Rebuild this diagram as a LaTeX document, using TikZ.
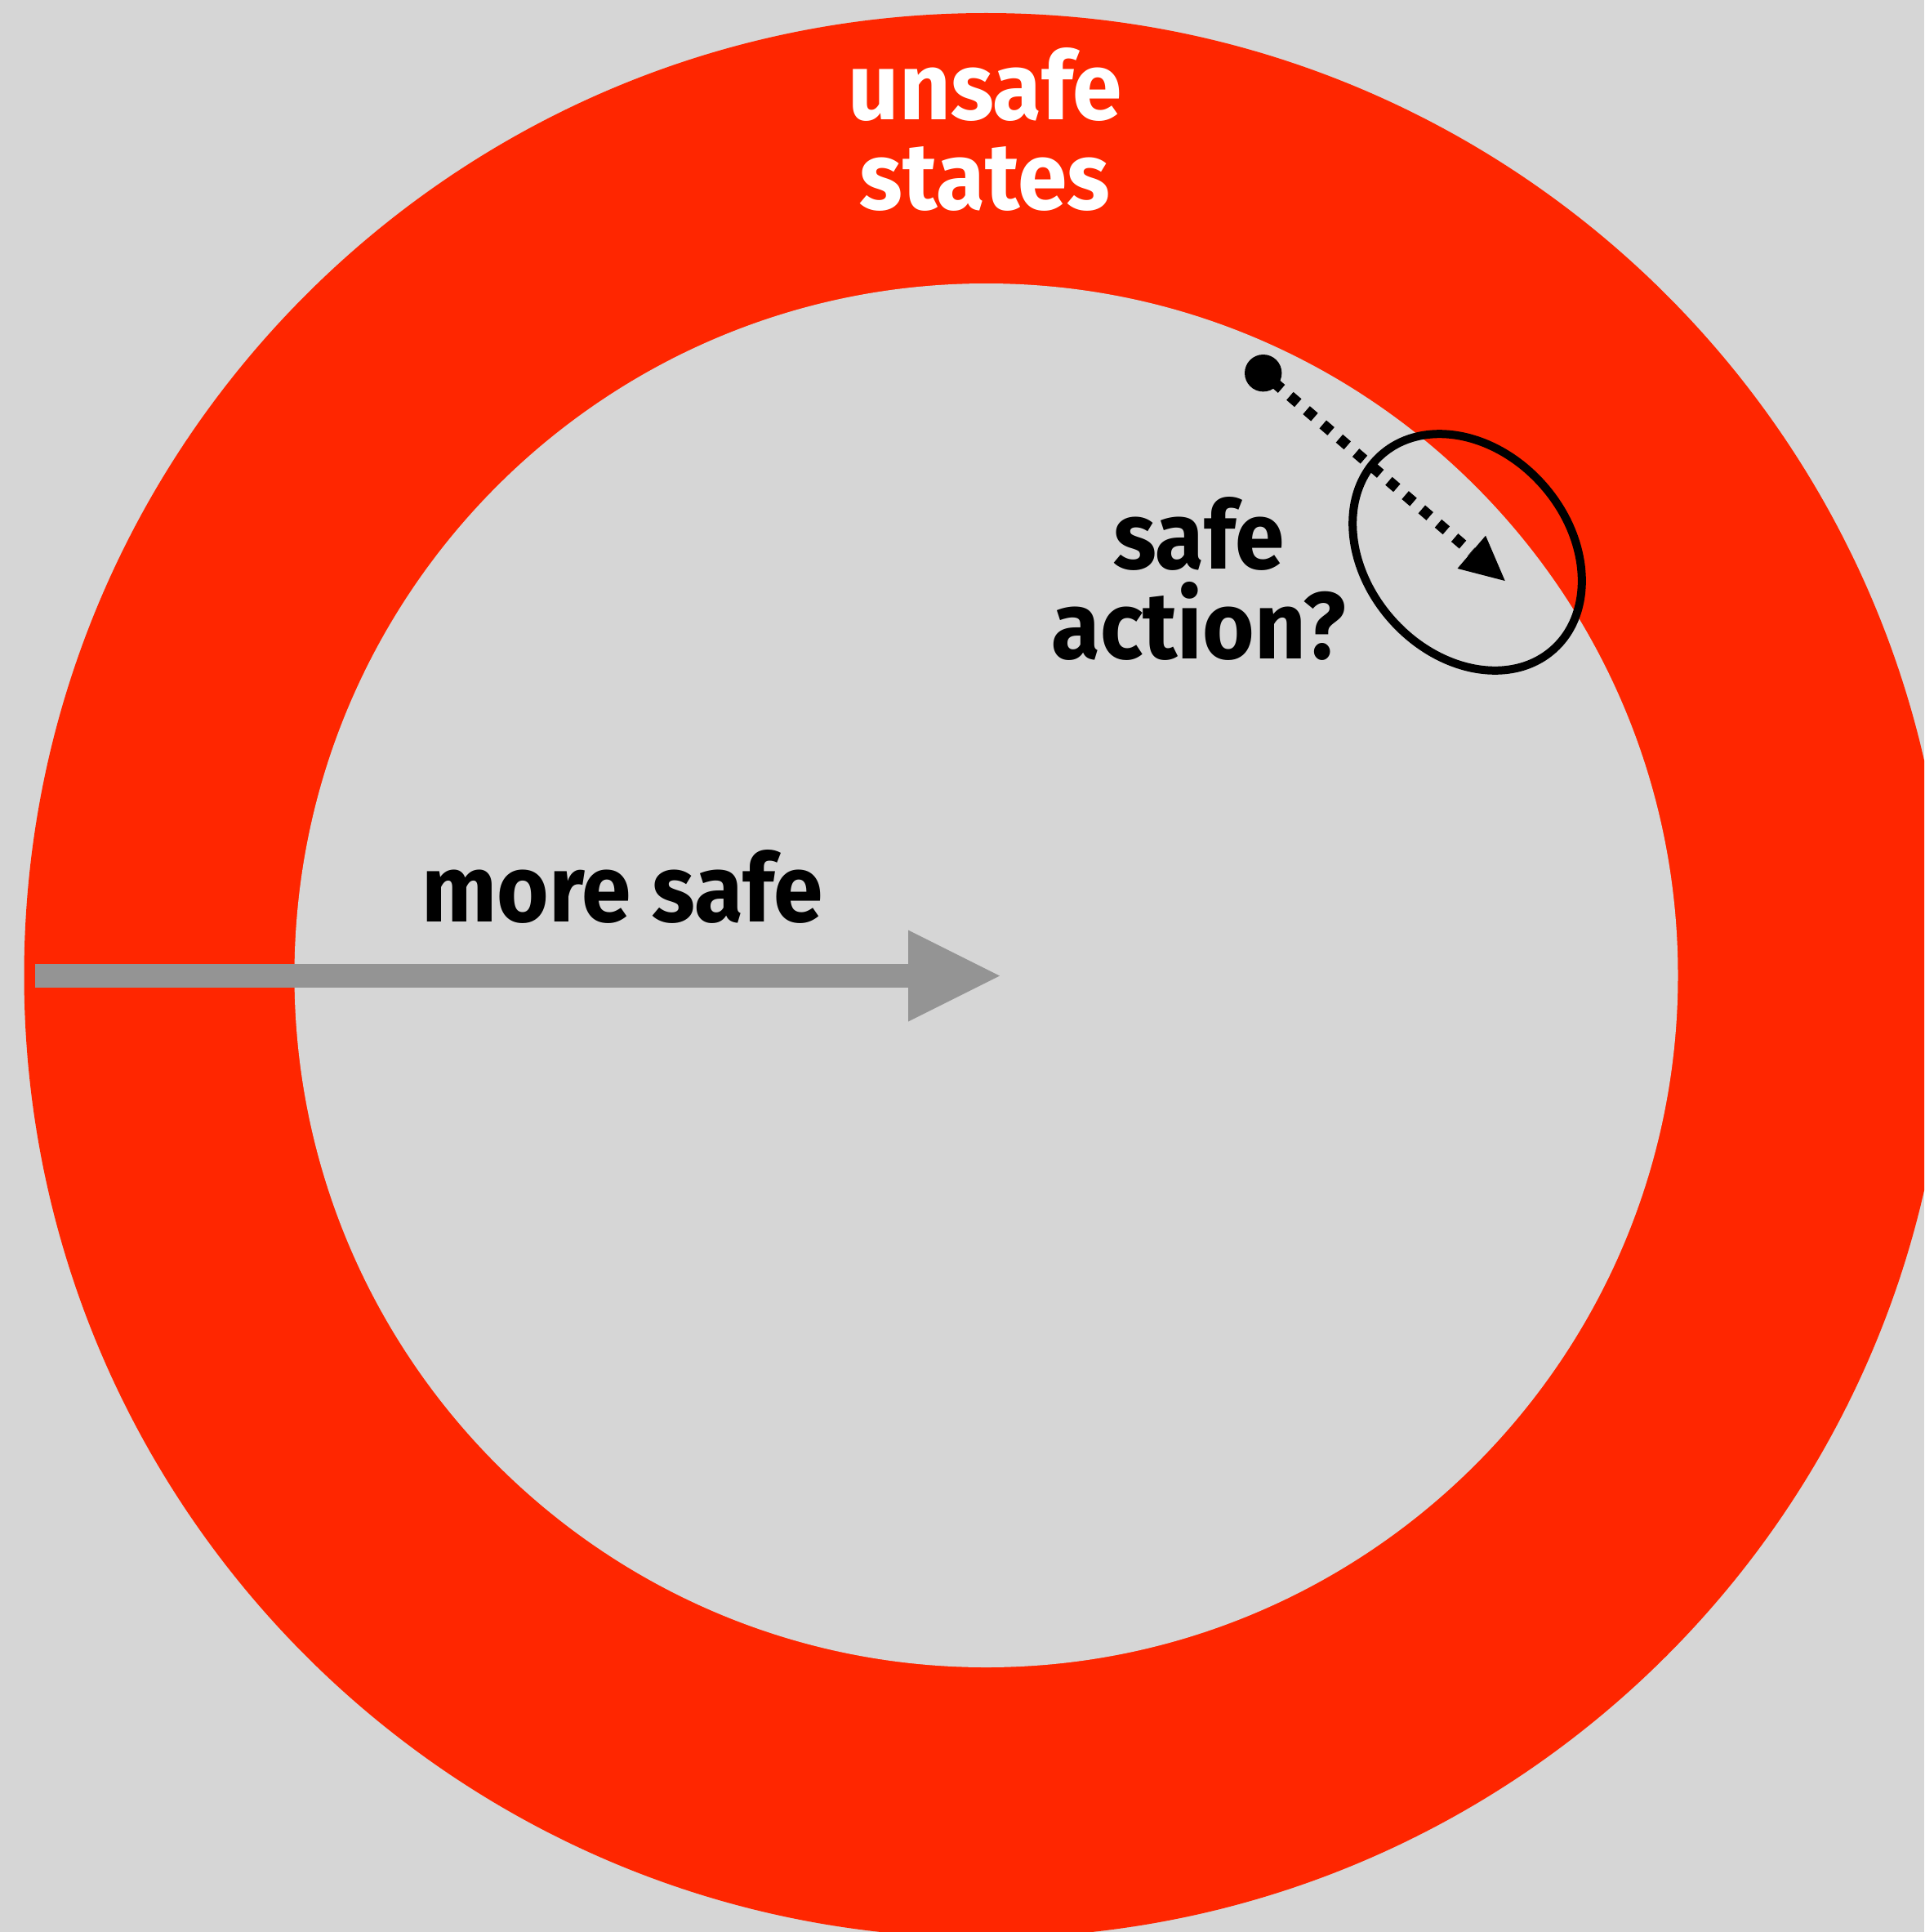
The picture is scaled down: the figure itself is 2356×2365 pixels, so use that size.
\documentclass[tikz,border=0pt]{standalone}
\usepackage{fontspec}
\newfontfamily\labelfont{Fira Sans}[FakeStretch=0.94]
\usetikzlibrary{arrows.meta,shapes.geometric}
\definecolor{bg}{HTML}{D6D6D6}
\definecolor{unsafered}{HTML}{FF2600}
\definecolor{arrowgrey}{HTML}{949494}
\begin{document}
\begin{tikzpicture}[x=1pt,y=-1pt,
  lbl/.style={font=\labelfont\bfseries\fontsize{116}{110}\selectfont, inner sep=0pt, align=center},
  bigarrow/.style={line width=29pt, arrowgrey, -{Triangle[length=112pt,width=112pt,line width=0pt]}},
  dotarrow/.style={line width=13pt, black, dash pattern=on 13pt off 13.6pt, dash phase=10.1pt,
    -{Triangle[length=54pt,width=53pt,line width=0pt]}},
  ring/.style={draw, ellipse, line width=10pt, minimum width=318pt, minimum height=248pt, inner sep=0pt}
]
\useasboundingbox (0,0) rectangle (2356,2365);
\clip (0,0) rectangle (2356,2365);
\fill[bg] (0,0) rectangle (2356,2365);
\coordinate (C) at (1207.5,1194);
\fill[unsafered] (C) circle [radius=1178pt];
\fill[bg] (C) circle [radius=847pt];
% gray arrow
\coordinate (gs) at (43,1194.5);
\coordinate (gt) at (1224,1194.5);
\draw[bigarrow] (gs) -- (gt);
% labels (base anchor = baseline of the last line)
\node[lbl, text=white, anchor=base] (unsafe) at (1206,257) {unsafe\\states};
\node[lbl, anchor=base] (more) at (762,1128) {more safe};
\node[lbl, anchor=base] (safeact) at (1468,806) {safe\\action?};
% action
\node[ring, rotate=-48.7] (region) at (1796.5,676) {};
\node[circle, fill=black, minimum size=45.4pt, inner sep=0pt] (state) at (1546.7,456.7) {};
\coordinate (atip) at (1842.7,711);
\draw[dotarrow] (state.center) -- (atip);
\end{tikzpicture}
\end{document}
